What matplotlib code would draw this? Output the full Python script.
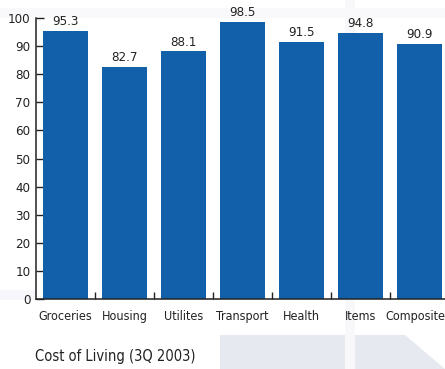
import matplotlib
matplotlib.use("Agg")
import matplotlib.pyplot as plt
from matplotlib.patches import Polygon, Rectangle
from matplotlib.transforms import ScaledTranslation

categories = ["Groceries", "Housing", "Utilites", "Transport", "Health", "Items", "Composite"]
values = [95.3, 82.7, 88.1, 98.5, 91.5, 94.8, 90.9]
yticks = [0, 10, 20, 30, 40, 50, 60, 70, 80, 90, 100]
title = "Cost of Living (3Q 2003)"

FONT = ["DejaVu Sans"]
plt.rcParams["font.family"] = FONT
plt.rcParams["font.stretch"] = "condensed"

W, H = 445, 369
fig = plt.figure(figsize=(W / 100, H / 100), dpi=100)

# faint decorative background
bg = fig.add_axes([0, 0, 1, 1], zorder=0)
bg.set_xlim(0, W)
bg.set_ylim(H, 0)
bg.axis("off")
bg.add_patch(Polygon([(220, 335), (405, 335), (445, 369), (220, 369)], closed=True,
                     facecolor="#e7e9f1", edgecolor="none"))
bg.add_patch(Rectangle((345, 0), 10, H, facecolor="#f8f8fb", edgecolor="none"))
bg.add_patch(Rectangle((0, 8), W, 10, facecolor="#f9f9fb", edgecolor="none"))
bg.add_patch(Rectangle((0, 290), 36, 10, facecolor="#f7f7fb", edgecolor="none"))

ax = fig.add_axes([36 / W, 70 / H, 413 / W, (351 - 70) / H], zorder=1)
ax.patch.set_alpha(0)
x = list(range(len(categories)))
bars = ax.bar(x, values, width=0.75, color="#1160a9", edgecolor="none", zorder=2)
for xi, v in zip(x, values):
    ax.text(xi, v + 1.0, f"{v:.1f}", ha="center", va="bottom", fontsize=9.5,
            color="#222222", fontstretch="condensed")

ax.set_xlim(-0.5, len(categories) - 0.5)
ax.set_ylim(0, 100)
ax.set_yticks(yticks)
ax.set_yticklabels([str(t) for t in yticks], fontsize=9.5, color="#222222",
                   fontstretch="condensed")
ax.set_xticks(x)
ax.set_xticklabels(categories, fontsize=9, color="#222222", fontstretch="condensed")
ax.set_xticks([i + 0.5 for i in range(len(categories) - 1)], minor=True)
ax.tick_params(axis="x", which="major", length=0, pad=8)
ax.tick_params(axis="x", which="minor", direction="in", length=5, width=1, color="#222222")
ax.tick_params(axis="y", direction="in", length=6, width=1, color="#222222", pad=4)
for s in ["top", "right"]:
    ax.spines[s].set_visible(False)
for s in ["left", "bottom"]:
    ax.spines[s].set_linewidth(1.1)
    ax.spines[s].set_color("#222222")

# keep last label inside the canvas
last = ax.get_xticklabels()[-1]
last.set_transform(last.get_transform() + ScaledTranslation(-4 / 100, 0, fig.dpi_scale_trans))

fig.text(35 / W, 1 - 357 / H, title, fontsize=10.5, ha="left", va="center",
         color="#222222", fontstretch="condensed")

fig.savefig("out.png", dpi=100)
